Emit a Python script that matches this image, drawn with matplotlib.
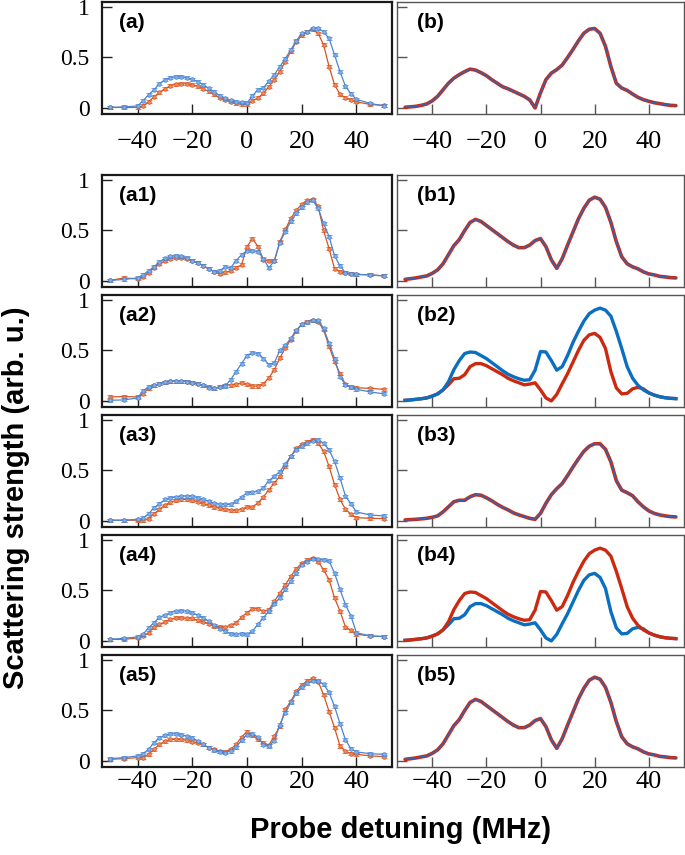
import numpy as np
import matplotlib
matplotlib.use("Agg")
import matplotlib.pyplot as plt

# ---------------- data ----------------
# experimental detuning grid (MHz)
x_exp = [-50, -45, -40, -38, -36, -34, -32, -30, -28, -26, -24, -22, -20, -18, -16,
         -14, -12, -10, -8, -6, -4, -2, 0, 2, 4, 6, 8, 10, 12, 14, 16, 18, 20, 22,
         24, 26, 28, 30, 32, 34, 36, 38, 40, 45, 50]

a_blue = [0.005, 0.01, 0.02, 0.07, 0.13, 0.18, 0.24, 0.28, 0.30, 0.31, 0.31, 0.30, 0.285,
          0.26, 0.23, 0.195, 0.16, 0.12, 0.095, 0.075, 0.06, 0.055, 0.05, 0.12, 0.18, 0.20,
          0.265, 0.33, 0.41, 0.49, 0.575, 0.665, 0.74, 0.755, 0.79, 0.79, 0.755, 0.69, 0.525,
          0.36, 0.215, 0.14, 0.085, 0.045, 0.02]
a_red = [0.005, 0.005, 0.005, 0.02, 0.06, 0.11, 0.155, 0.19, 0.22, 0.235, 0.24, 0.24, 0.23,
         0.215, 0.19, 0.165, 0.135, 0.10, 0.08, 0.06, 0.045, 0.035, 0.035, 0.07, 0.10, 0.145,
         0.21, 0.28, 0.36, 0.46, 0.56, 0.655, 0.72, 0.755, 0.78, 0.74, 0.625, 0.41, 0.23,
         0.135, 0.10, 0.08, 0.06, 0.035, 0.025]

a1_blue = [0.005, 0.015, 0.03, 0.06, 0.10, 0.14, 0.19, 0.225, 0.245, 0.25, 0.245, 0.23, 0.20,
           0.18, 0.15, 0.12, 0.09, 0.10, 0.14, 0.13, 0.20, 0.26, 0.30, 0.30, 0.29, 0.22,
           0.13, 0.20, 0.38, 0.49, 0.59, 0.67, 0.73, 0.78, 0.80, 0.72, 0.57, 0.44, 0.25,
           0.15, 0.08, 0.07, 0.065, 0.06, 0.05]
a1_red = [0.005, 0.03, 0.02, 0.04, 0.08, 0.13, 0.17, 0.20, 0.22, 0.23, 0.23, 0.22, 0.20,
          0.18, 0.15, 0.12, 0.09, 0.07, 0.085, 0.10, 0.13, 0.16, 0.34, 0.42, 0.34, 0.21,
          0.20, 0.20, 0.39, 0.51, 0.62, 0.70, 0.76, 0.80, 0.81, 0.74, 0.50, 0.32, 0.12,
          0.09, 0.08, 0.07, 0.065, 0.06, 0.05]

a2_blue = [0.007, 0.01, 0.03, 0.10, 0.14, 0.155, 0.17, 0.187, 0.197, 0.197, 0.197, 0.19, 0.18,
           0.17, 0.155, 0.13, 0.125, 0.14, 0.148, 0.21, 0.29, 0.37, 0.45, 0.48, 0.47, 0.42,
           0.36, 0.38, 0.50, 0.55, 0.62, 0.70, 0.76, 0.78, 0.80, 0.80, 0.72, 0.57, 0.42,
           0.24, 0.16, 0.135, 0.115, 0.09, 0.07]
a2_red = [0.04, 0.043, 0.04, 0.07, 0.125, 0.155, 0.17, 0.187, 0.197, 0.197, 0.197, 0.19, 0.18,
          0.17, 0.155, 0.14, 0.125, 0.14, 0.157, 0.157, 0.164, 0.18, 0.164, 0.148, 0.148,
          0.17, 0.23, 0.31, 0.426, 0.525, 0.607, 0.69, 0.76, 0.787, 0.80, 0.787, 0.705,
          0.54, 0.39, 0.27, 0.164, 0.14, 0.13, 0.125, 0.115]

a3_blue = [0.007, 0.007, 0.016, 0.03, 0.07, 0.13, 0.17, 0.213, 0.23, 0.236, 0.246, 0.246,
           0.246, 0.23, 0.213, 0.197, 0.174, 0.164, 0.164, 0.164, 0.197, 0.236, 0.28, 0.285,
           0.295, 0.328, 0.40, 0.443, 0.49, 0.564, 0.64, 0.705, 0.738, 0.77, 0.793, 0.803,
           0.77, 0.705, 0.59, 0.426, 0.246, 0.17, 0.089, 0.059, 0.05]
a3_red = [0.007, 0.007, 0.007, 0.007, 0.023, 0.07, 0.115, 0.157, 0.187, 0.203, 0.213, 0.213,
          0.203, 0.19, 0.17, 0.155, 0.138, 0.125, 0.115, 0.105, 0.105, 0.115, 0.14, 0.138,
          0.18, 0.236, 0.31, 0.377, 0.443, 0.54, 0.64, 0.72, 0.76, 0.787, 0.803, 0.77, 0.69,
          0.54, 0.36, 0.213, 0.115, 0.066, 0.033, 0.026, 0.023]

a4_blue = [0.016, 0.026, 0.04, 0.066, 0.13, 0.18, 0.236, 0.256, 0.28, 0.295, 0.30, 0.295,
           0.28, 0.256, 0.23, 0.197, 0.155, 0.12, 0.098, 0.072, 0.066, 0.072, 0.066, 0.098,
           0.164, 0.23, 0.295, 0.367, 0.426, 0.51, 0.59, 0.672, 0.754, 0.787, 0.813, 0.81,
           0.803, 0.793, 0.672, 0.51, 0.36, 0.246, 0.082, 0.05, 0.043]
a4_red = [0.016, 0.016, 0.03, 0.05, 0.08, 0.138, 0.164, 0.19, 0.213, 0.23, 0.23, 0.223, 0.223,
          0.203, 0.19, 0.17, 0.148, 0.14, 0.138, 0.155, 0.18, 0.236, 0.28, 0.32, 0.318,
          0.295, 0.31, 0.393, 0.475, 0.557, 0.64, 0.715, 0.77, 0.803, 0.82, 0.787, 0.705,
          0.607, 0.426, 0.295, 0.138, 0.105, 0.066, 0.05, 0.043]

a5_blue = [0.023, 0.033, 0.05, 0.072, 0.115, 0.18, 0.23, 0.256, 0.27, 0.27, 0.262, 0.246,
           0.23, 0.197, 0.164, 0.13, 0.105, 0.089, 0.082, 0.098, 0.138, 0.203, 0.262, 0.27,
           0.236, 0.16, 0.148, 0.20, 0.36, 0.48, 0.58, 0.67, 0.73, 0.77, 0.795, 0.795, 0.76,
           0.68, 0.54, 0.37, 0.21, 0.12, 0.089, 0.072, 0.066]
a5_red = [0.016, 0.023, 0.033, 0.033, 0.066, 0.115, 0.164, 0.197, 0.213, 0.213, 0.213, 0.203,
          0.19, 0.18, 0.164, 0.13, 0.115, 0.098, 0.092, 0.115, 0.164, 0.236, 0.29, 0.256,
          0.213, 0.18, 0.157, 0.246, 0.344, 0.51, 0.59, 0.69, 0.754, 0.793, 0.82, 0.787,
          0.656, 0.49, 0.328, 0.148, 0.098, 0.072, 0.066, 0.05, 0.043]

exp_err = 0.015

# theory detuning grid (MHz)
x_th = [-50, -48, -46, -44, -42, -40, -38, -36, -34, -32, -30, -28, -26, -24, -22, -20,
        -18, -16, -14, -12, -10, -8, -6, -4, -2, 0, 2, 4, 6, 8, 10, 12, 14, 16, 18, 20,
        22, 24, 26, 28, 30, 32, 34, 36, 38, 40, 42, 44, 46, 48, 50]

b_th = [0.007, 0.011, 0.016, 0.026, 0.04, 0.07, 0.115, 0.18, 0.245, 0.295, 0.33, 0.36,
        0.385, 0.375, 0.35, 0.32, 0.28, 0.245, 0.21, 0.19, 0.165, 0.14, 0.115, 0.08, 0.0,
        0.15, 0.28, 0.345, 0.38, 0.425, 0.50, 0.58, 0.665, 0.74, 0.78, 0.787, 0.74, 0.61,
        0.41, 0.245, 0.197, 0.174, 0.138, 0.105, 0.082, 0.066, 0.052, 0.043, 0.033, 0.026,
        0.023]

b1_th = [0.016, 0.022, 0.03, 0.04, 0.05, 0.075, 0.11, 0.17, 0.26, 0.35, 0.41, 0.50, 0.58,
         0.61, 0.59, 0.55, 0.51, 0.47, 0.43, 0.39, 0.355, 0.33, 0.33, 0.355, 0.40, 0.42,
         0.34, 0.21, 0.125, 0.22, 0.355, 0.485, 0.615, 0.72, 0.80, 0.83, 0.81, 0.73, 0.58,
         0.39, 0.24, 0.17, 0.14, 0.12, 0.09, 0.07, 0.06, 0.046, 0.04, 0.033, 0.03]

b2_blue = [0.006, 0.01, 0.016, 0.022, 0.03, 0.048, 0.07, 0.11, 0.19, 0.31, 0.40, 0.47,
           0.485, 0.48, 0.45, 0.42, 0.38, 0.34, 0.30, 0.265, 0.24, 0.22, 0.205, 0.21, 0.305,
           0.49, 0.485, 0.40, 0.305, 0.34, 0.45, 0.58, 0.69, 0.79, 0.865, 0.90, 0.92, 0.90,
           0.84, 0.69, 0.52, 0.34, 0.226, 0.155, 0.11, 0.08, 0.058, 0.042, 0.032, 0.026,
           0.023]
b2_red = [0.006, 0.01, 0.016, 0.022, 0.03, 0.048, 0.07, 0.11, 0.16, 0.22, 0.225, 0.26, 0.34,
          0.37, 0.37, 0.35, 0.32, 0.29, 0.26, 0.225, 0.20, 0.18, 0.16, 0.167, 0.18, 0.11,
          0.03, 0.0, 0.065, 0.17, 0.27, 0.385, 0.50, 0.60, 0.655, 0.67, 0.63, 0.52, 0.29,
          0.13, 0.07, 0.075, 0.12, 0.135, 0.12, 0.08, 0.058, 0.042, 0.032, 0.026, 0.023]

b3_th = [0.01, 0.013, 0.016, 0.021, 0.026, 0.036, 0.05, 0.09, 0.14, 0.19, 0.205, 0.205,
         0.24, 0.26, 0.255, 0.23, 0.20, 0.165, 0.135, 0.11, 0.08, 0.06, 0.043, 0.026, 0.016,
         0.075, 0.175, 0.26, 0.32, 0.37, 0.45, 0.535, 0.615, 0.69, 0.74, 0.765, 0.765, 0.71,
         0.585, 0.40, 0.305, 0.28, 0.25, 0.19, 0.14, 0.10, 0.075, 0.06, 0.05, 0.043, 0.04]

# b4 is b2 with the two polarisations swapped, b5 equals b1
b4_blue = b2_red
b4_red = b2_blue
b5_th = b1_th

panel_labels_left = ["(a)", "(a1)", "(a2)", "(a3)", "(a4)", "(a5)"]
panel_labels_right = ["(b)", "(b1)", "(b2)", "(b3)", "(b4)", "(b5)"]
exp_series = [(a_blue, a_red), (a1_blue, a1_red), (a2_blue, a2_red),
              (a3_blue, a3_red), (a4_blue, a4_red), (a5_blue, a5_red)]
th_series = [(b_th, b_th), (b1_th, b1_th), (b2_blue, b2_red),
             (b3_th, b3_th), (b4_blue, b4_red), (b5_th, b5_th)]
overlap = [True, True, False, True, False, True]

xticks = [-40, -20, 0, 20, 40]
xticklabels = ["\u221240", "\u221220", "0", "20", "40"]
yticks = [0, 0.5, 1]
yticklabels = ["0", "0.5", "1"]

# ---------------- style ----------------
c_exp_blue = "#4a84d2"
c_exp_red = "#d8531f"
c_th_blue = "#0b6fc1"
c_th_red = "#cc2a10"

fig = plt.figure(figsize=(6.85, 8.55), dpi=100)
W, H = 685.0, 855.0
row_tops = [2, 175, 295, 415, 535, 655]
ph = 112
lx0, lx1 = 102, 392
rx0, rx1 = 397, 684

serif = "Liberation Serif"
sans = "Liberation Sans"

def style_axis(ax, left_col, xpad):
    ax.set_xlim(-53, 53)
    ax.set_ylim(-0.06, 1.05)
    ax.set_xticks(xticks)
    ax.set_yticks(yticks)
    ax.tick_params(direction="in", length=7, width=1, top=False, right=False,
                   colors="#222222" if left_col else "#555555")
    if xpad is not None:
        ax.set_xticklabels(xticklabels, fontfamily=serif, fontsize=19, color="black")
        ax.tick_params(axis="x", pad=xpad)
    else:
        ax.set_xticklabels([])
    if left_col:
        ax.set_yticklabels(yticklabels, fontfamily=serif, fontsize=17, color="black")
        ax.tick_params(axis="y", pad=9)
    else:
        ax.set_yticklabels([])
    for s in ax.spines.values():
        if left_col:
            s.set_color("#1a1a1a")
            s.set_linewidth(1.6)
        else:
            s.set_color("#555555")
            s.set_linewidth(1.0)

xpads = [12, None, None, None, None, 3]

for i in range(6):
    top = row_tops[i]
    bottom = (H - top - ph) / H

    axl = fig.add_axes([lx0 / W, bottom, (lx1 - lx0) / W, ph / H])
    yb, yr = exp_series[i]
    axl.errorbar(x_exp, yb, yerr=exp_err, color=c_exp_blue, lw=0.9, marker="o", ms=2.6,
                 mfc="#7fb0ea", mec=c_exp_blue, mew=0.5, elinewidth=0.8, capsize=2.2,
                 capthick=0.9, zorder=3)
    axl.errorbar(x_exp, yr, yerr=exp_err, color=c_exp_red, lw=0.9, marker="o", ms=2.6,
                 mfc="#f08a5a", mec=c_exp_red, mew=0.5, elinewidth=0.8, capsize=2.2,
                 capthick=0.9, zorder=2)
    style_axis(axl, True, xpads[i])
    axl.text(0.06, 0.82, panel_labels_left[i], transform=axl.transAxes, fontsize=15,
             fontweight="bold", fontfamily=sans, va="center", ha="left")

    axr = fig.add_axes([rx0 / W, bottom, (rx1 - rx0) / W, ph / H])
    tb, tr = th_series[i]
    if overlap[i]:
        axr.plot(x_th, tr, color=c_th_red, lw=2.6, solid_capstyle="round", zorder=2)
        axr.plot(x_th, tb, color="#3a5fb0", lw=1.1, zorder=3)
    else:
        if i == 2:
            axr.plot(x_th, tr, color=c_th_red, lw=2.4, zorder=2)
            axr.plot(x_th, tb, color=c_th_blue, lw=2.4, zorder=3)
        else:
            axr.plot(x_th, tb, color=c_th_blue, lw=2.4, zorder=2)
            axr.plot(x_th, tr, color=c_th_red, lw=2.4, zorder=3)
    style_axis(axr, False, xpads[i])
    axr.text(0.07, 0.82, panel_labels_right[i], transform=axr.transAxes, fontsize=15,
             fontweight="bold", fontfamily=sans, va="center", ha="left")

fig.text(0.024, 0.418, "Scattering strength (arb. u.)", rotation=90, fontsize=21,
         fontweight="bold", fontfamily=sans, ha="center", va="center")
fig.text(0.585, 0.029, "Probe detuning (MHz)", fontsize=21, fontweight="bold",
         fontfamily=sans, ha="center", va="center")

fig.savefig("out.png", dpi=100)
